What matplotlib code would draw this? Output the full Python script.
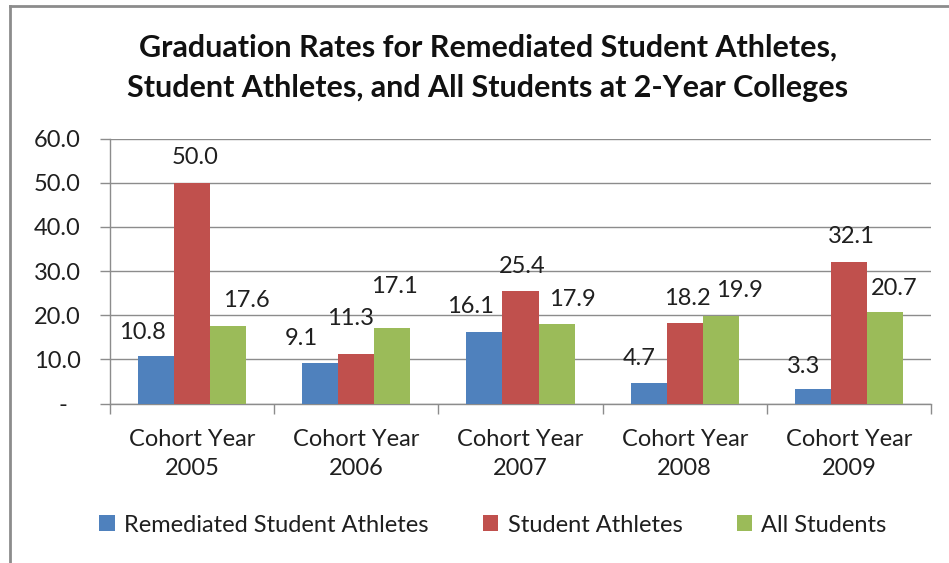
import matplotlib
matplotlib.use("Agg")
import matplotlib.pyplot as plt
import numpy as np
from matplotlib.transforms import ScaledTranslation

plt.rcParams['font.family'] = ['Lato', 'DejaVu Sans']

categories = ["Cohort Year\n2005", "Cohort Year\n2006", "Cohort Year\n2007",
              "Cohort Year\n2008", "Cohort Year\n2009"]
series_names = ["Remediated Student Athletes", "Student Athletes", "All Students"]
remediated = [10.8, 9.1, 16.1, 4.7, 3.3]
athletes = [50.0, 11.3, 25.4, 18.2, 32.1]
all_students = [17.6, 17.1, 17.9, 19.9, 20.7]
y_ticks = [0, 10, 20, 30, 40, 50, 60]
y_tick_labels = ["-", "10.0", "20.0", "30.0", "40.0", "50.0", "60.0"]
title = "Graduation Rates for Remediated Student Athletes,\nStudent Athletes, and All Students at 2-Year Colleges"

colors = ["#4F81BD", "#C0504D", "#9BBB59"]
# label offsets in pixels (dx, dy) relative to bar top centre
label_offsets = [
    [(-14, 23), (-19, 25), (-14, 26), (-9, 24), (-9, 22)],
    [(3, 25), (-6, 35), (2, 25), (3, 25), (2, 25)],
    [(18, 25), (2, 41), (16, 25), (19, 25), (9, 24)],
]

W, H = 949, 563
FS = 17
fig = plt.figure(figsize=(W / 100, H / 100), dpi=100)
ax = fig.add_axes([110 / W, (H - 403.5) / H, (931 - 110) / W, (403.5 - 138.5) / H])

series = [remediated, athletes, all_students]
x = np.arange(len(categories))
bw = 0.66 / 3
text_color = "#1f1f1f"
for i, (vals, name, c) in enumerate(zip(series, series_names, colors)):
    pos = x + (i - 1) * bw
    ax.bar(pos, vals, width=bw, color=c, label=name, zorder=3, linewidth=0)
    for j, v in enumerate(vals):
        dx, dy = label_offsets[i][j]
        ax.annotate(f"{v:.1f}", (pos[j], v), xytext=(dx, dy), textcoords='offset pixels',
                    ha='center', va='center', fontsize=FS, color=text_color)

ax.set_xlim(-0.5, len(categories) - 0.5)
ax.set_ylim(0, 60)
ax.set_yticks(y_ticks)
ax.set_yticklabels(y_tick_labels)
ax.yaxis.grid(True, color="#8C8C8C", linewidth=1, zorder=0)
ax.set_axisbelow(True)
for s in ["top", "right"]:
    ax.spines[s].set_visible(False)
for s in ["left", "bottom"]:
    ax.spines[s].set_color("#8C8C8C")
    ax.spines[s].set_linewidth(1)

ax.tick_params(axis='y', length=7, width=1, color="#8C8C8C", pad=14, labelsize=FS, labelcolor=text_color)
# shift the zero label
lbl0 = ax.get_yticklabels()[0]
lbl0.set_transform(lbl0.get_transform() + ScaledTranslation(-0.13, 0, fig.dpi_scale_trans))

# category labels
ax.set_xticks(x)
ax.set_xticklabels(categories, linespacing=1.48)
ax.tick_params(axis='x', length=0, pad=18.5, labelsize=FS, labelcolor=text_color)
ax.set_xticks(np.arange(len(categories) + 1) - 0.5, minor=True)
ax.tick_params(axis='x', which='minor', length=7, width=1, color="#8C8C8C")

fig.text(488 / W, 1 - 67.5 / H, title, ha='center', va='center', fontsize=22,
         fontweight='bold', color="#111111", linespacing=1.55)

leg = fig.legend(loc='center left', bbox_to_anchor=(78 / W, 1 - 525 / H), ncol=3,
                 frameon=False, fontsize=FS, handlelength=0.65, handleheight=0.65,
                 handletextpad=0.4, columnspacing=2.3, labelcolor=text_color)

# outer chart border (left and top visible)
fig.add_artist(plt.Line2D([10 / W, 10 / W], [0, 1 - 6 / H], transform=fig.transFigure,
                          color="#8C8C8C", linewidth=2))
fig.add_artist(plt.Line2D([10 / W, 1], [1 - 6 / H, 1 - 6 / H], transform=fig.transFigure,
                          color="#8C8C8C", linewidth=2))

fig.savefig("out.png", dpi=100)
